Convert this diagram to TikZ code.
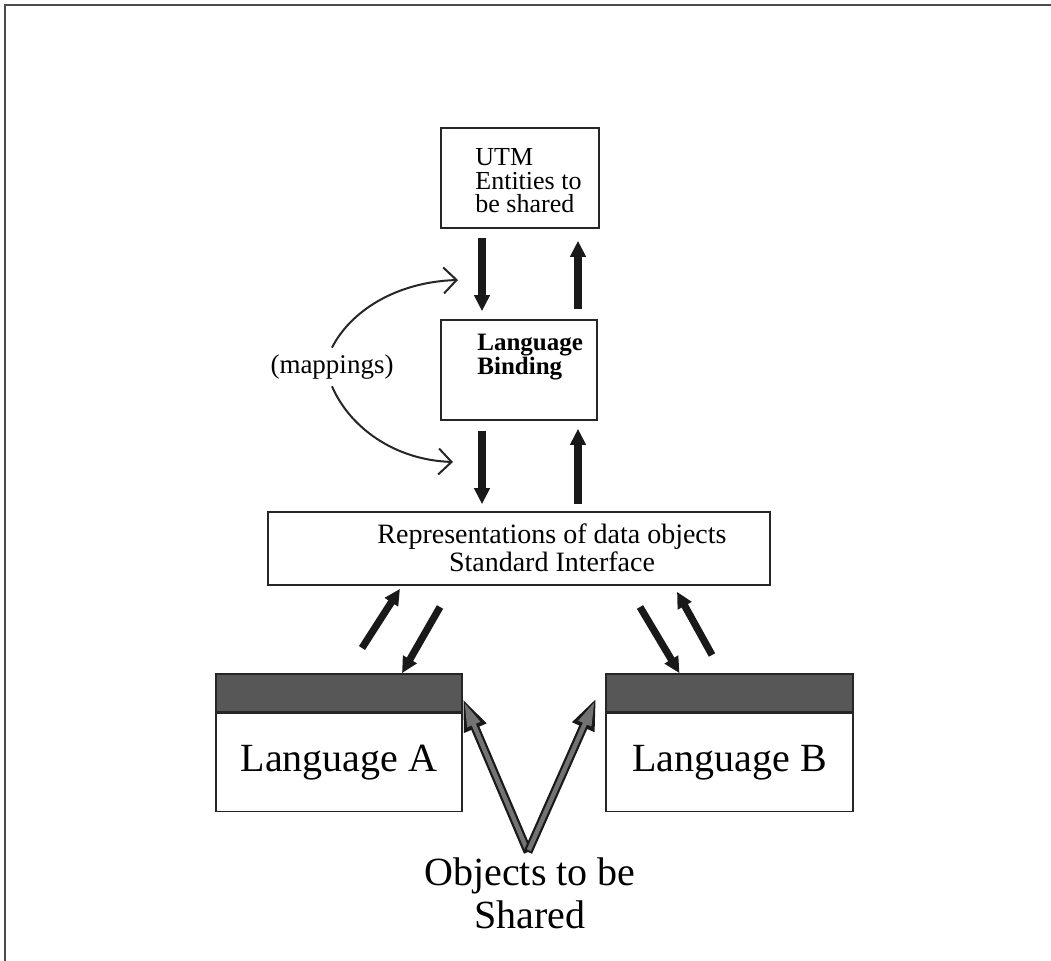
\documentclass[tikz,border=0pt]{standalone}
\usepackage{fontspec}
\setmainfont{Liberation Serif}
\usetikzlibrary{arrows.meta}
\usetikzlibrary{positioning}

\begin{document}
\begin{tikzpicture}[x=0.5pt, y=-0.5pt,
    box/.style={draw=black!85, line width=0.8pt, fill=white, inner sep=0pt},
    bar/.style={draw=black!85, line width=0.8pt, fill=black!66, inner sep=0pt},
    fat/.style={draw=black!90, line width=3.6pt, -{Triangle[length=8pt, width=7.5pt]}},
    maparrow/.style={draw=black!85, line width=1pt, -{Straight Barb[length=6.5pt, width=13pt]}}]

      \useasboundingbox (0,0) rectangle (1051,961);
      % page frame, only left and top edge show
      \draw[black!70, line width=1pt] (5,961) -- (5,5) -- (1051,5);

      % Boxes of the upper column
      \node[box, minimum width=79pt, minimum height=50pt] (utm) at (520,178) {};
      \node[box, minimum width=78pt, minimum height=50pt] (bind) at (519,370) {};
      \node[box, minimum width=251pt, minimum height=36.5pt] (rep) at (519,548.5) {};

      \node[anchor=west, inner sep=0pt, align=left, font=\fontsize{13}{11.8}\selectfont] (utmtxt) at (475,181) {UTM\\Entities to\\be shared};
      \node[anchor=west, inner sep=0pt, align=left, font=\bfseries\fontsize{12.5}{12}\selectfont] (bindtxt) at (477,357) {Language\\Binding};
      \node[inner sep=0pt, align=center, font=\fontsize{14}{12.5}\selectfont] (reptxt) at (552,548) {Representations of data objects\\Standard Interface};

      % The two languages
      \node[bar, minimum width=123pt, minimum height=19pt] (barA) at (339,693) {};
      \node[box, below=0pt of barA, minimum width=123pt, minimum height=49pt, font=\fontsize{20}{22}\selectfont] (langA) {Language A};
      \node[bar, minimum width=123.5pt, minimum height=19pt] (barB) at (729.5,693) {};
      \node[box, below=0pt of barB, minimum width=123.5pt, minimum height=49pt, font=\fontsize{20}{22}\selectfont] (langB) {Language B};

      % Up and down arrows between the boxes
      \coordinate (dnCol) at (482,0);
      \coordinate (upCol) at (578,0);
      \draw[fat, shorten <=4.5pt, shorten >=4pt] (dnCol |- utm.south) -- (dnCol |- bind.north);
      \draw[fat, shorten <=5pt, shorten >=6pt] (upCol |- bind.north) -- (upCol |- utm.south);
      \draw[fat, shorten <=5pt, shorten >=3.5pt] (dnCol |- bind.south) -- (dnCol |- rep.north);
      \draw[fat, shorten <=3.5pt, shorten >=4pt] (upCol |- rep.north) -- (upCol |- bind.south);

      \coordinate (aUp) at (362,648);
      \coordinate (aDn) at (440,607);
      \coordinate (bDn) at (640,607);
      \coordinate (bUp) at (712,655);
      \draw[fat] (aUp) -- ([xshift=-59.5pt, yshift=-1.5pt]rep.south);
      \draw[fat] (aDn) -- ([xshift=31.5pt]barA.north);
      \draw[fat] (bDn) -- ([xshift=-25pt]barB.north);
      \draw[fat] (bUp) -- ([xshift=79pt, yshift=-3pt]rep.south);

      % Mappings
      \node[font=\fontsize{13.5}{14}\selectfont] (maps) at (332,367) {(mappings)};
      \coordinate (mapUp) at (458,280);
      \coordinate (mapDn) at (453,462);
      \draw[maparrow] (maps.north) .. controls (350,312) and (395,282) .. (mapUp);
      \draw[maparrow] (maps.south) .. controls (350,428) and (395,460) .. (mapDn);

      % Objects to be shared
      \node[anchor=north, inner sep=0pt, align=center, font=\fontsize{20}{21.5}\selectfont] (objs) at (530,857) {Objects to be\\Shared};
      \coordinate (vTip) at (528,852);
      \coordinate (hitA) at ([yshift=7pt]langA.north east);
      \coordinate (hitB) at ([xshift=-4.5pt, yshift=-2.5pt]barB.west);
      \foreach \tgt in {hitA, hitB} {
        \draw[black!90, line width=4.4pt, -{Triangle[length=16pt, width=11pt]}] (vTip) -- (\tgt);
        \draw[black!55, line width=2.2pt, -{Triangle[length=12pt, width=6.5pt]}, shorten >=2pt, shorten <=1pt] (vTip) -- (\tgt);
      }
\end{tikzpicture}
\end{document}
